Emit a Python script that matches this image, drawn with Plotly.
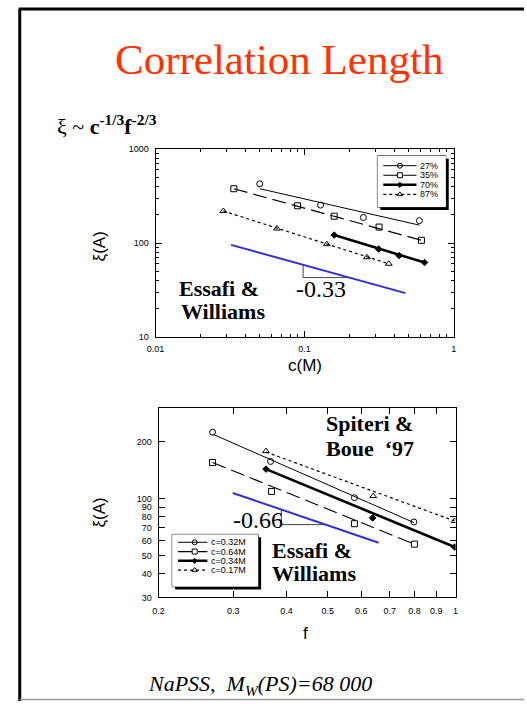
import math
import plotly.graph_objects as go

W, H = 527, 706

# ---------------- data: top panel (xi vs c, fixed f) ----------------
top_names = ["27%", "35%", "70%", "87%"]
c_27 = [0.050, 0.128, 0.248, 0.589]
xi_27 = [426, 253, 187, 173]
c_35 = [0.0335, 0.0897, 0.158, 0.316, 0.608]
xi_35 = [378, 249, 193, 148, 107]
c_70 = [0.158, 0.314, 0.431, 0.638]
xi_70 = [121.6, 86.3, 73.6, 62.2]
c_87 = [0.0285, 0.0653, 0.141, 0.262, 0.367]
xi_87 = [219, 142.6, 97.2, 70.7, 60.3]
# fitted lines (end points)
fit_c_27 = [0.050, 0.59];  fit_xi_27 = [378, 155]
fit_c_35 = [0.0335, 0.608]; fit_xi_35 = [378, 107]
fit_c_70 = [0.158, 0.638]; fit_xi_70 = [121.6, 62.2]
fit_c_87 = [0.0285, 0.367]; fit_xi_87 = [219, 60.3]
# guide line with slope triangle
guide_c = [0.0321, 0.475];  guide_xi = [95.7, 29.4]
tri_c = [0.0977, 0.0977, 0.1995]; tri_xi = [58.8, 43.0, 43.0]

# ---------------- data: bottom panel (xi vs f, fixed c) ----------------
bot_names = ["c=0.32M", "c=0.64M", "c=0.34M", "c=0.17M"]
f_32 = [0.268, 0.367, 0.578, 0.798]
xi_32 = [224, 157, 101, 75.2]
f_64 = [0.268, 0.369, 0.578, 0.800]
xi_64 = [155, 109, 73.6, 57.4]
f_34 = [0.358, 0.638, 0.995]
xi_34 = [143, 79, 55.4]
f_17 = [0.358, 0.640, 0.995]
xi_17 = [178, 103, 76.1]
fit_f_32 = [0.268, 0.798]; fit_xi_32b = [219, 74.6]
fit_f_64 = [0.268, 0.800]; fit_xi_64b = [155, 57.4]
fit_f_34 = [0.358, 0.995]; fit_xi_34b = [143, 55.4]
fit_f_17 = [0.358, 0.995]; fit_xi_17b = [176, 76.1]
guide_f = [0.299, 0.659]; guide_xi_b = [107, 58.4]
tri_f = [0.389, 0.389, 0.494]; tri_xi_b = [87.4, 72.8, 72.8]

top_xticks = [0.01, 0.1, 1]
top_xticktext = ["0.01", "0.1", "1"]
top_yticks = [10, 100, 1000]
top_yticktext = ["10", "100", "1000"]
bot_xticks = [0.2, 0.3, 0.4, 0.5, 0.6, 0.7, 0.8, 0.9, 1.0]
bot_xticktext = ["0.2", "0.3", "0.4", "0.5", "0.6", "0.7", "0.8", "0.9", "1"]
bot_yticks = [30, 40, 50, 60, 70, 80, 90, 100, 200]
bot_yticktext = ["30", "40", "50", "60", "70", "80", "90", "100", "200"]

# ---------------- styles ----------------
styles = [
    dict(symbol="circle-open", msize=6, lw=1.0, dash="solid"),
    dict(symbol="square-open", msize=6, lw=1.2, dash="14px,6px"),
    dict(symbol="diamond", msize=5, lw=2.6, dash="solid"),
    dict(symbol="triangle-up-open", msize=6, lw=1.2, dash="3px,3px"),
]
BLUE = "#3030D8"
SERIF = "Liberation Serif, Times New Roman, serif"
SANS = "Liberation Sans, Arial, sans-serif"


def px(x):
    return x / W


def py(y):
    return 1 - y / H


fig = go.Figure()

top_pts = [(c_27, xi_27), (c_35, xi_35), (c_70, xi_70), (c_87, xi_87)]
top_fit = [(fit_c_27, fit_xi_27), (fit_c_35, fit_xi_35), (fit_c_70, fit_xi_70), (fit_c_87, fit_xi_87)]
bot_pts = [(f_32, xi_32), (f_64, xi_64), (f_34, xi_34), (f_17, xi_17)]
bot_fit = [(fit_f_32, fit_xi_32b), (fit_f_64, fit_xi_64b), (fit_f_34, fit_xi_34b), (fit_f_17, fit_xi_17b)]

for (pts, fits, xa, ya) in [(top_pts, top_fit, "x", "y"), (bot_pts, bot_fit, "x2", "y2")]:
    for (xs, ys), (fx, fy), st in zip(pts, fits, styles):
        fig.add_trace(go.Scatter(x=fx, y=fy, mode="lines", xaxis=xa, yaxis=ya,
                                 line=dict(color="black", width=st["lw"], dash=st["dash"]),
                                 showlegend=False, hoverinfo="skip"))
        fig.add_trace(go.Scatter(x=xs, y=ys, mode="markers", xaxis=xa, yaxis=ya,
                                 marker=dict(symbol=st["symbol"], size=st["msize"], color="black",
                                             line=dict(color="black", width=1)),
                                 showlegend=False))

fig.add_trace(go.Scatter(x=guide_c, y=guide_xi, mode="lines", xaxis="x", yaxis="y",
                         line=dict(color=BLUE, width=2), showlegend=False))
fig.add_trace(go.Scatter(x=tri_c, y=tri_xi, mode="lines", xaxis="x", yaxis="y",
                         line=dict(color="#444444", width=1), showlegend=False))
fig.add_trace(go.Scatter(x=guide_f, y=guide_xi_b, mode="lines", xaxis="x2", yaxis="y2",
                         line=dict(color=BLUE, width=2), showlegend=False))
fig.add_trace(go.Scatter(x=tri_f, y=tri_xi_b, mode="lines", xaxis="x2", yaxis="y2",
                         line=dict(color="#444444", width=1), showlegend=False))

# ---------------- axes ----------------
def minor_vals(lo, hi):
    vals = []
    for e in range(lo, hi):
        for k in range(2, 10):
            vals.append(k * 10 ** e)
    return vals

axis_common = dict(type="log", showline=True, linecolor="black", linewidth=1, mirror="allticks",
                   ticks="inside", ticklen=6, tickcolor="black", tickwidth=1, showgrid=False,
                   zeroline=False, tickfont=dict(family=SANS, size=9, color="black"),
                   tickmode="array", fixedrange=True)

fig.update_layout(
    xaxis=dict(**axis_common, domain=[px(150), px(455)], range=[-2, 0], anchor="y",
               tickvals=top_xticks, ticktext=top_xticktext, ticklabelstandoff=3,
               minor=dict(ticks="inside", ticklen=3, tickcolor="black", tickmode="array",
                          tickvals=minor_vals(-2, 0))),
    yaxis=dict(**axis_common, domain=[py(337), py(146)], range=[1, 3], anchor="x",
               tickvals=top_yticks, ticktext=top_yticktext, ticklabelstandoff=4,
               minor=dict(ticks="inside", ticklen=3, tickcolor="black", tickmode="array",
                          tickvals=minor_vals(1, 3))),
    xaxis2=dict(**axis_common, domain=[px(153), px(457)], range=[math.log10(0.2), 0], anchor="y2",
                tickvals=bot_xticks, ticktext=bot_xticktext, ticklabelstandoff=5),
    yaxis2=dict(**axis_common, domain=[py(601), py(409)], range=[math.log10(30), math.log10(300)],
                anchor="x2", tickvals=bot_yticks, ticktext=bot_yticktext, ticklabelstandoff=4),
)

shapes = []
annotations = []

# ---------------- manual legends ----------------
def add_legend(idx, names, box, row0, step, line_x, mark_x, text_x):
    x0, y0, x1, y1 = box
    xa, ya = f"x{idx}", f"y{idx}"
    fig.layout[f"xaxis{idx}"] = dict(domain=[px(x0), px(x1)], range=[0, x1 - x0], visible=False,
                                     anchor=ya, fixedrange=True)
    fig.layout[f"yaxis{idx}"] = dict(domain=[py(y1), py(y0)], range=[y1 - y0, 0], visible=False,
                                     anchor=xa, fixedrange=True)
    shapes.append(dict(type="rect", xref="paper", yref="paper", x0=px(x0 + 3), x1=px(x1 + 3),
                       y0=py(y1 + 3), y1=py(y0 + 3), fillcolor="black", line=dict(width=0),
                       layer="below"))
    shapes.append(dict(type="rect", xref="paper", yref="paper", x0=px(x0), x1=px(x1),
                       y0=py(y1), y1=py(y0), fillcolor="white", line=dict(color="black", width=1),
                       layer="below"))
    for i, (name, st) in enumerate(zip(names, styles)):
        r = row0 + i * step
        fig.add_trace(go.Scatter(x=list(line_x), y=[r, r], mode="lines", xaxis=xa, yaxis=ya,
                                 line=dict(color="black", width=st["lw"], dash=st["dash"]),
                                 showlegend=False, hoverinfo="skip"))
        fig.add_trace(go.Scatter(x=[mark_x], y=[r], mode="markers", xaxis=xa, yaxis=ya,
                                 marker=dict(symbol=st["symbol"], size=st["msize"] - 1, color="black",
                                             line=dict(color="black", width=1)),
                                 showlegend=False, hoverinfo="skip"))
        annotations.append(dict(x=text_x, y=r, xref=xa, yref=ya, text=name, showarrow=False,
                                xanchor="left", yanchor="middle",
                                font=dict(family=SANS, size=9, color="black")))

add_legend(3, top_names, (377, 153, 447, 205), 10, 9.7, (6, 40), 23, 42)
add_legend(4, bot_names, (167, 537, 255, 590), 8, 9.4, (6, 36), 23, 38)

# ---------------- slide frame ----------------
shapes.append(dict(type="line", xref="paper", yref="paper", x0=px(10), x1=1, y0=py(4), y1=py(4),
                   line=dict(color="black", width=3)))
shapes.append(dict(type="line", xref="paper", yref="paper", x0=px(11), x1=px(11), y0=py(4), y1=0,
                   line=dict(color="black", width=3)))
shapes.append(dict(type="line", xref="paper", yref="paper", x0=px(11), x1=1, y0=py(704.5), y1=py(704.5),
                   line=dict(color="#999999", width=1.5)))

# ---------------- text ----------------
def txt(x, y, text, size, family=SERIF, color="black", xanchor="left", angle=0):
    annotations.append(dict(x=px(x), y=py(y), xref="paper", yref="paper", text=text,
                            showarrow=False, xanchor=xanchor, yanchor="middle", textangle=angle,
                            font=dict(family=family, size=size, color=color)))

txt(276, 55, "Correlation Length", 43, color="#FF3300", xanchor="center")
txt(47, 122, "ξ ~ <b>c<sup>-1/3</sup>f<sup>-2/3</sup></b>", 22)
txt(172, 288, "<b>Essafi &amp;</b>", 22)
txt(174, 311, "<b>Williams</b>", 22)
txt(292, 288, "-0.33", 24)
txt(322, 425, "<b>Spiteri &amp;</b>", 22)
txt(322, 450, "<b>Boue&nbsp; ‘97</b>", 22)
txt(267, 553, "<b>Essafi &amp;</b>", 22)
txt(267, 577, "<b>Williams</b>", 22)
txt(227, 522, "-0.66", 24)
txt(303, 366, "c(M)", 17, family=SANS, xanchor="center")
txt(303, 638, "f", 17, family=SANS, xanchor="center")
txt(93, 245, "ξ(A)", 17, family=SANS, xanchor="center", angle=-90)
txt(93, 515, "ξ(A)", 17, family=SANS, xanchor="center", angle=-90)
txt(140, 690, "<i>NaPSS,&nbsp; M<sub>W</sub>(PS)=68 000</i>", 22)

fig.update_layout(
    width=W, height=H, margin=dict(l=0, r=0, t=0, b=0),
    paper_bgcolor="white", plot_bgcolor="white",
    showlegend=False, shapes=shapes, annotations=annotations,
)

fig.write_html("out.html", config={"displayModeBar": False},
               post_script=("document.documentElement.style.margin='0';"
                            "document.documentElement.style.overflow='hidden';"
                            "document.body.style.margin='0';"
                            "document.body.style.overflow='hidden';"))
